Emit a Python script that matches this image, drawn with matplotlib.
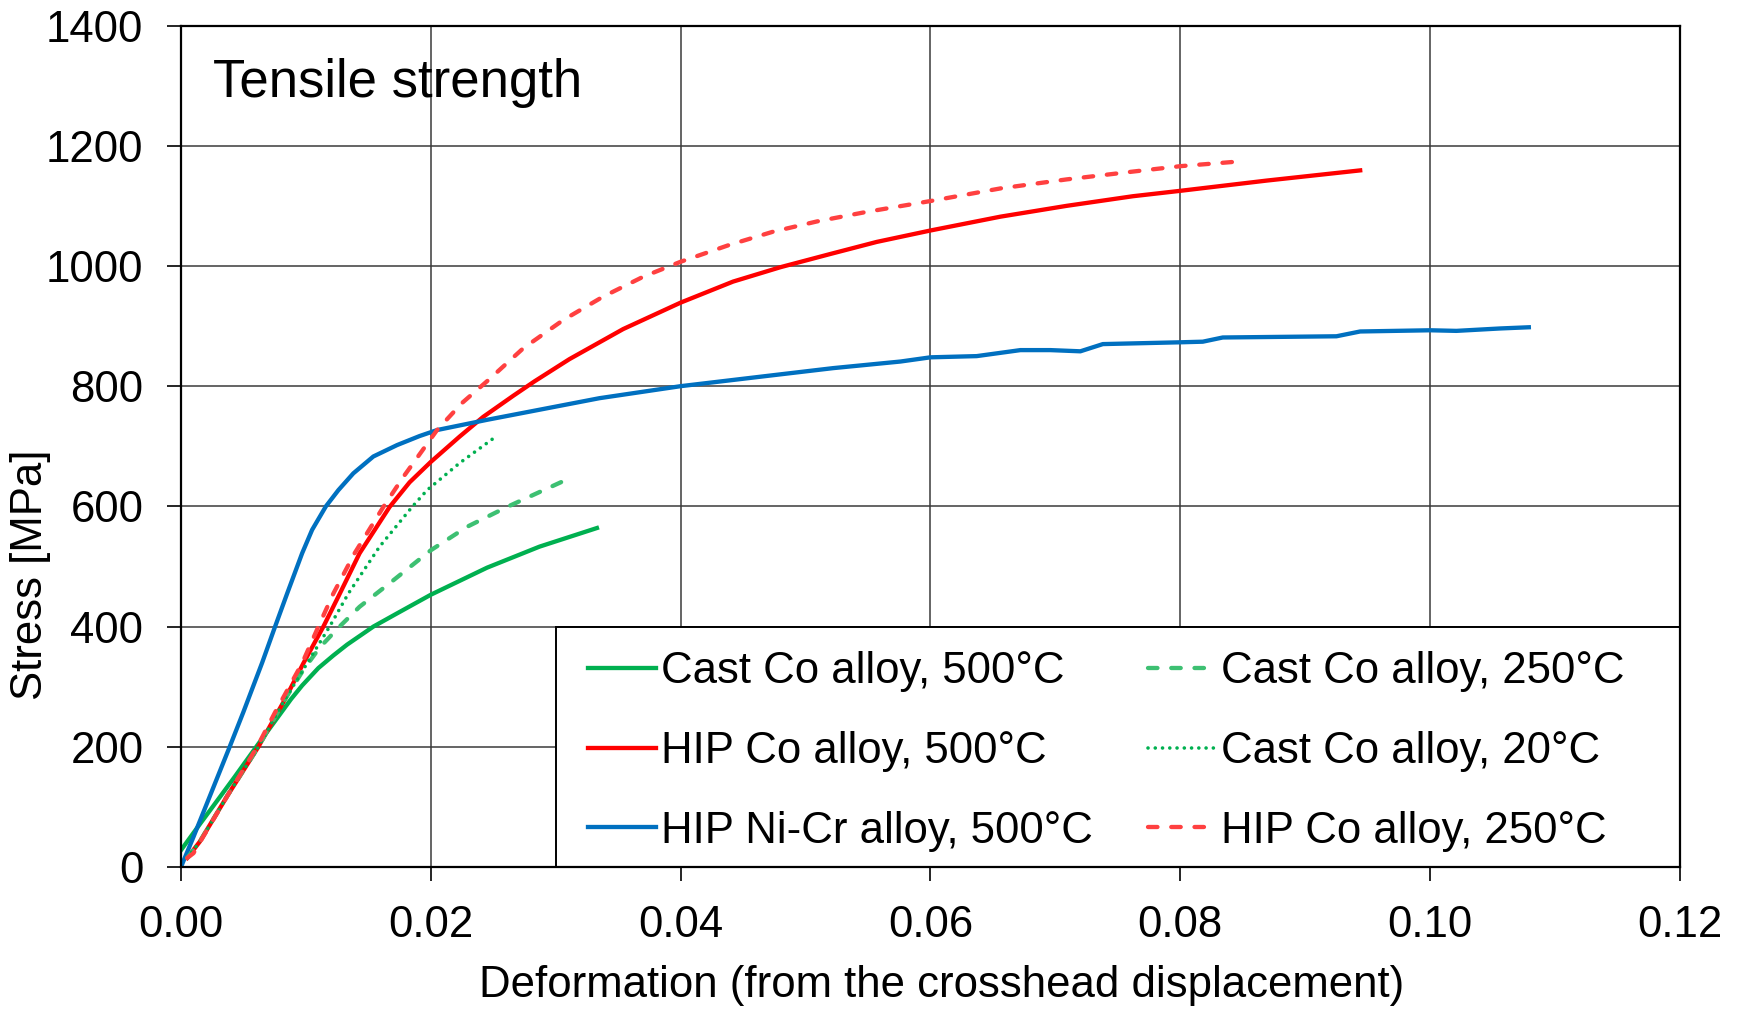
import matplotlib.pyplot as plt
from matplotlib.patches import Rectangle

plt.rcParams['font.family'] = ['Liberation Sans', 'DejaVu Sans']

# HIP Ni-Cr alloy, 500°C
nicr_x = [0, 0.0010, 0.0039, 0.0050, 0.0065, 0.0075, 0.0085, 0.0097, 0.0105, 0.0116,
          0.0126, 0.0138, 0.0154, 0.0173, 0.0191, 0.0205, 0.0245, 0.0285, 0.0335, 0.0400,
          0.0469, 0.0522, 0.0576, 0.0600, 0.0637, 0.0672, 0.0696, 0.0720, 0.0738, 0.0800,
          0.0818, 0.0834, 0.0925, 0.0944, 0.1000, 0.1021, 0.1056, 0.1079]
nicr_y = [0, 50, 200, 258, 340, 398, 455, 522, 561, 600,
          627, 655, 683, 702, 717, 727, 744, 760, 780, 800,
          817, 830, 841, 848, 850, 860, 860, 858, 870, 873,
          874, 881, 883, 891, 893, 892, 896, 898]

# HIP Co alloy, 500°C
hip500_x = [0.0005, 0.0015, 0.0037, 0.0062, 0.0083, 0.0098, 0.0114, 0.0126, 0.0143, 0.0167,
            0.0183, 0.0200, 0.0223, 0.0242, 0.0266, 0.0283, 0.0311, 0.0354, 0.0400, 0.0442,
            0.0480, 0.0520, 0.0557, 0.0600, 0.0656, 0.0709, 0.0762, 0.0800, 0.0869, 0.0944]
hip500_y = [15, 42, 118, 200, 278, 339, 400, 450, 522, 599,
            640, 674, 716, 749, 784, 808, 845, 895, 939, 974,
            998, 1020, 1040, 1059, 1082, 1100, 1116, 1125, 1142, 1159]

# HIP Co alloy, 250°C
hip250_x = [0.0005, 0.0010, 0.0037, 0.0061, 0.0075, 0.0097, 0.0110, 0.0122, 0.0139, 0.0162,
            0.0178, 0.0205, 0.0225, 0.0246, 0.0274, 0.0306, 0.0338, 0.0370, 0.0400, 0.0439,
            0.0474, 0.0509, 0.0549, 0.0600, 0.0656, 0.0709, 0.0762, 0.0800, 0.0842]
hip250_y = [15, 23, 118, 200, 256, 339, 400, 455, 522, 599,
            649, 727, 772, 810, 863, 910, 949, 982, 1007, 1035,
            1057, 1074, 1090, 1108, 1129, 1144, 1157, 1166, 1173]

# Cast Co alloy, 500°C
cast500_x = [0, 0.0015, 0.0031, 0.0043, 0.0062, 0.0088, 0.0097, 0.0110, 0.0122, 0.0133,
             0.0154, 0.0173, 0.0200, 0.0245, 0.0287, 0.0333]
cast500_y = [28, 71, 116, 150, 205, 279, 302, 331, 352, 370,
             400, 422, 453, 498, 533, 564]

# Cast Co alloy, 250°C
cast250_x = [0.0005, 0.0015, 0.0037, 0.0062, 0.0083, 0.0098, 0.0111, 0.0126, 0.0143, 0.0170,
             0.0200, 0.0229, 0.0261, 0.0305]
cast250_y = [15, 42, 118, 200, 278, 328, 365, 398, 433, 477,
             527, 566, 599, 641]

# Cast Co alloy, 20°C
cast20_x = [0.0005, 0.0015, 0.0037, 0.0062, 0.0083, 0.0101, 0.0119, 0.0134, 0.0159, 0.0185,
            0.0197, 0.0223, 0.0252]
cast20_y = [15, 42, 118, 200, 278, 339, 400, 455, 533, 599,
            627, 672, 716]

x_ticks = [0, 0.02, 0.04, 0.06, 0.08, 0.10, 0.12]
y_ticks = [0, 200, 400, 600, 800, 1000, 1200, 1400]

fig = plt.figure(figsize=(17.4, 10.13), dpi=100)
ax = fig.add_axes([0.104, 0.1441, 0.8615, 0.8307])

lw = 3.1
dash = (0, (2.2, 3.2))
ax.plot(cast500_x, cast500_y, color='#00B050', lw=lw, label='Cast Co alloy, 500°C')
ax.plot(hip500_x, hip500_y, color='#FF0000', lw=lw, label='HIP Co alloy, 500°C')
ax.plot(nicr_x, nicr_y, color='#0070C0', lw=lw, label='HIP Ni-Cr alloy, 500°C')
ax.plot(cast250_x, cast250_y, color='#3DC072', lw=lw, ls=dash, dash_capstyle='round',
        label='Cast Co alloy, 250°C')
ax.plot(cast20_x, cast20_y, color='#00B050', lw=2.6, ls=(0, (0.01, 2.0)),
        dash_capstyle='round', label='Cast Co alloy, 20°C')
ax.plot(hip250_x, hip250_y, color='#FF4040', lw=lw, ls=dash, dash_capstyle='round',
        label='HIP Co alloy, 250°C')

ax.set_xlim(0, 0.12)
ax.set_ylim(0, 1400)
ax.set_xticks(x_ticks)
ax.set_xticklabels([f'{v:.2f}' for v in x_ticks])
ax.set_yticks(y_ticks)
ax.set_axisbelow(True)
ax.grid(True, color='#3a3a3a', lw=1.1)
ax.tick_params(direction='out', length=10, width=1.2, pad=17, labelsize=31.5)
for sp in ax.spines.values():
    sp.set_linewidth(1.6)

# white box behind the legend
ax.add_patch(Rectangle((0.25, 0), 0.75, 400 / 1400, transform=ax.transAxes,
                       facecolor='white', edgecolor='black', lw=1.4, zorder=1.5))
ax.legend(ncol=2, loc='center left', bbox_to_anchor=(0.2715, 0.1375), frameon=False,
          fontsize=31.5, handlelength=1.55, handletextpad=0.12, labelspacing=0.885,
          columnspacing=1.25, borderpad=0, borderaxespad=0)

ax.text(0.0213, 0.932, 'Tensile strength', transform=ax.transAxes,
        fontsize=38, va='center', ha='left')
fig.text(31 / 1740, 1 - 575 / 1013, 'Stress [MPa]', rotation=90,
         fontsize=31.5, ha='center', va='center')
fig.text(942 / 1740, 1 - 985.5 / 1013, 'Deformation (from the crosshead displacement)',
         fontsize=31.5, ha='center', va='center')

fig.savefig('out.png', dpi=100)
